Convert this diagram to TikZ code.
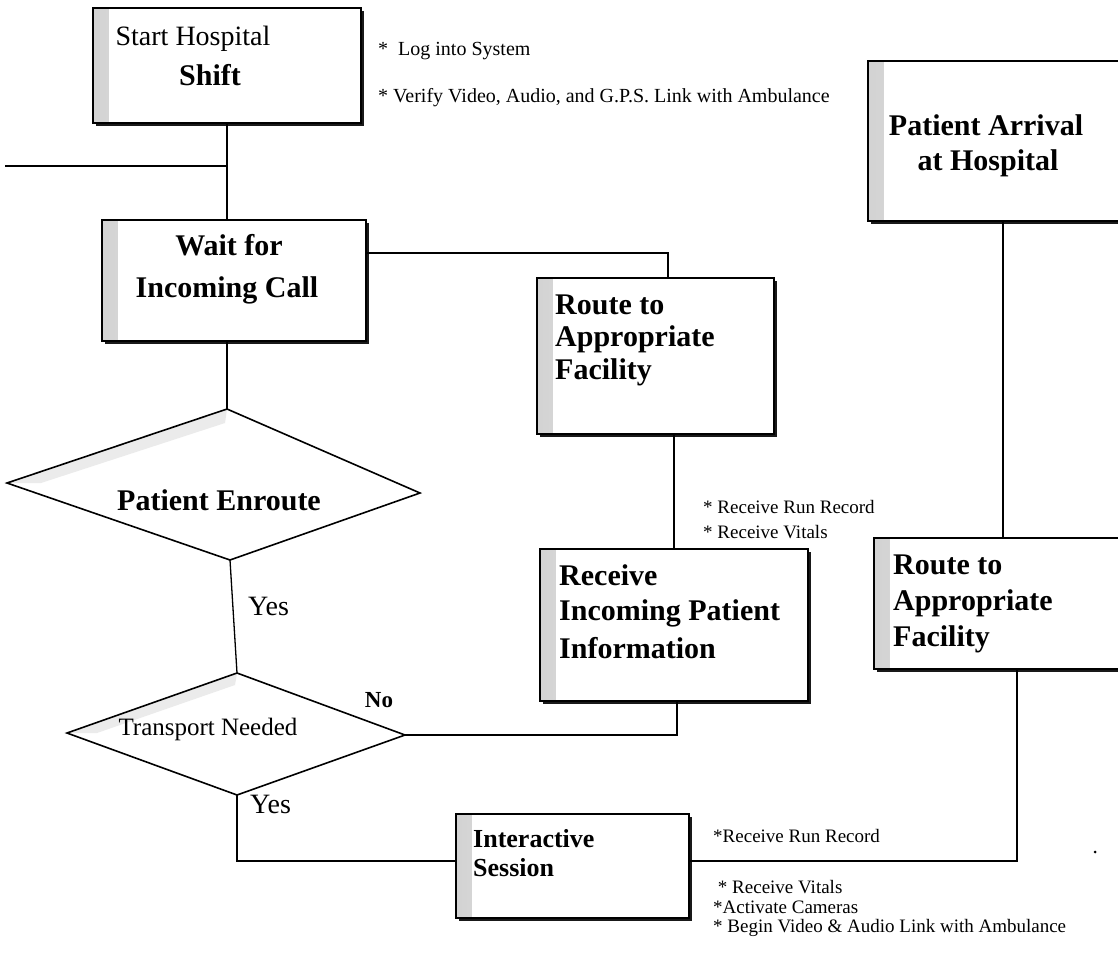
\documentclass[tikz,border=0pt]{standalone}
\usepackage{fontspec}
\setmainfont{Liberation Serif}
\usetikzlibrary{shadows,calc}
\begin{document}
\begin{tikzpicture}[x=1pt,y=-1pt,
  box/.style={draw, line width=1.6pt, fill=white, rectangle, inner sep=0pt, anchor=north west,
    drop shadow={shadow xshift=3pt, shadow yshift=-3pt, fill=black, opacity=0.9},
    path picture={\shade[left color=gray!35, right color=white] (path picture bounding box.north west) rectangle ([xshift=16pt]path picture bounding box.south west);}},
  conn/.style={line width=1.3pt},
  dia/.style={line width=1.6pt, fill=white},
  band/.style={fill=gray!16},
  bigb/.style={font=\fontsize{30}{32}\selectfont\bfseries, inner sep=0pt},
  bigr/.style={font=\fontsize{28}{30}\selectfont, inner sep=0pt},
  midb/.style={font=\fontsize{26}{28}\selectfont\bfseries, inner sep=0pt},
  midr/.style={font=\fontsize{25}{27}\selectfont, inner sep=0pt},
  note/.style={font=\fontsize{19}{21}\selectfont, inner sep=0pt, anchor=base west},
  noteb/.style={font=\fontsize{20}{22}\selectfont, inner sep=0pt, anchor=base west}
]
\clip (0,0) rectangle (1118,956);
\useasboundingbox (0,0) rectangle (1118,956);
\fill[white] (0,0) rectangle (1118,956);

% boxes
\node[box, minimum width=268, minimum height=115] (start) at (92,7) {};
\node[box, minimum width=264, minimum height=121] (wait) at (101,219) {};
\node[box, minimum width=237, minimum height=156] (route1) at (536,277) {};
\node[box, minimum width=268, minimum height=152] (receive) at (539,548) {};
\node[box, minimum width=300, minimum height=160] (arrival) at (867,60) {};
\node[box, minimum width=300, minimum height=131] (route2) at (873,537) {};
\node[box, minimum width=233, minimum height=104] (inter) at (455,813) {};

% diamonds
\coordinate (pe-w) at (7,483);
\coordinate (pe-n) at (227,409);
\coordinate (pe-e) at (420,493);
\coordinate (pe-s) at (230,560);
\coordinate (tn-w) at (67,733);
\coordinate (tn-n) at (237,673);
\coordinate (tn-e) at (405,735);
\coordinate (tn-s) at (237,795);
\fill[white] (pe-w) -- (pe-n) -- (pe-e) -- (pe-s) -- cycle;
\fill[band] (pe-w) -- (pe-n) -- ($(pe-n)+(-2,14)$) -- ($(pe-w)+(34,0)$) -- cycle;
\draw[dia, fill=none] (pe-w) -- (pe-n) -- (pe-e) -- (pe-s) -- cycle;
\fill[white] (tn-w) -- (tn-n) -- (tn-e) -- (tn-s) -- cycle;
\fill[band] (tn-w) -- (tn-n) -- ($(tn-n)+(-2,12)$) -- ($(tn-w)+(30,0)$) -- cycle;
\draw[dia, fill=none] (tn-w) -- (tn-n) -- (tn-e) -- (tn-s) -- cycle;

% helper coordinates for connector positions
\coordinate (lin) at (5,166);
\coordinate (j1) at (227,166);
\coordinate (c1) at (668,253);
\coordinate (c2) at (674,0);
\coordinate (c3) at (677,0);
\coordinate (c4) at (0,861);
\coordinate (c5) at (1017,0);
\coordinate (c6) at (1003,0);

% connectors
\draw[conn] (lin) -- (j1);
\draw[conn] (start.south -| j1) -- (wait.north -| j1);
\draw[conn] (wait.east |- c1) -| (route1.north -| c1);
\draw[conn] (route1.south -| c2) -- (receive.north -| c2);
\draw[conn] (receive.south -| c3) |- (tn-e);
\draw[conn] (wait.south -| pe-n) -- (pe-n);
\draw[conn] (pe-s) -- (tn-n);
\draw[conn] (tn-s) |- (inter.west |- c4);
\draw[conn] (inter.east |- c4) -| (route2.south -| c5);
\draw[conn] (arrival.south -| c6) -- (route2.north -| c6);

% box texts
\node[bigr, anchor=base] (t1) at (193,45) {Start Hospital};
\node[bigb, anchor=base] (t2) at (210,85) {Shift};
\node[bigb, anchor=base] (t3) at (229,255) {Wait for};
\node[bigb, anchor=base] (t4) at (227,297) {Incoming Call};
\node[bigb, anchor=base west] (t5) at (555,314) {Route to};
\node[bigb, anchor=base west] (t6) at (555,346) {Appropriate};
\node[bigb, anchor=base west] (t7) at (555,379) {Facility};
\node[bigb, anchor=base west] (t8) at (559,585) {Receive};
\node[bigb, anchor=base west] (t9) at (559,620) {Incoming Patient};
\node[bigb, anchor=base west] (t10) at (559,658) {Information};
\node[bigb, anchor=base west] (t11) at (893,574) {Route to};
\node[bigb, anchor=base west] (t12) at (893,610) {Appropriate};
\node[bigb, anchor=base west] (t13) at (893,646) {Facility};
\node[bigb, anchor=base] (t14) at (986,135) {Patient Arrival};
\node[bigb, anchor=base] (t15) at (988,170) {at Hospital};
\node[bigb, anchor=base] (t16) at (219,510) {Patient Enroute};
\node[midr, anchor=base] (t17) at (208,735) {Transport Needed};
\node[midb, anchor=base west] (t18) at (473,847) {Interactive};
\node[midb, anchor=base west] (t19) at (473,876) {Session};

% labels
\node[bigr, anchor=base west] (y1) at (248,615) {Yes};
\node[bigr, anchor=base west] (y2) at (250,813) {Yes};
\node[font=\fontsize{23}{25}\selectfont\bfseries, inner sep=0pt, anchor=base] (no) at (379,707) {No};

% notes
\node[noteb] (n1) at (378,55) {*\ \ Log into System};
\node[noteb] (n2) at (378,102) {* Verify Video, Audio, and G.P.S. Link with Ambulance};
\node[note] (n3) at (703,513) {* Receive Run Record};
\node[note] (n4) at (703,538) {* Receive Vitals};
\node[note] (n5) at (713,842) {*Receive Run Record};
\node[note] (n6) at (713,893) {\ * Receive Vitals};
\node[note] (n7) at (713,913) {*Activate Cameras};
\node[note] (n8) at (713,932) {* Begin Video \& Audio Link with Ambulance};

\fill (1095,852) circle (1.5);
\end{tikzpicture}
\end{document}
